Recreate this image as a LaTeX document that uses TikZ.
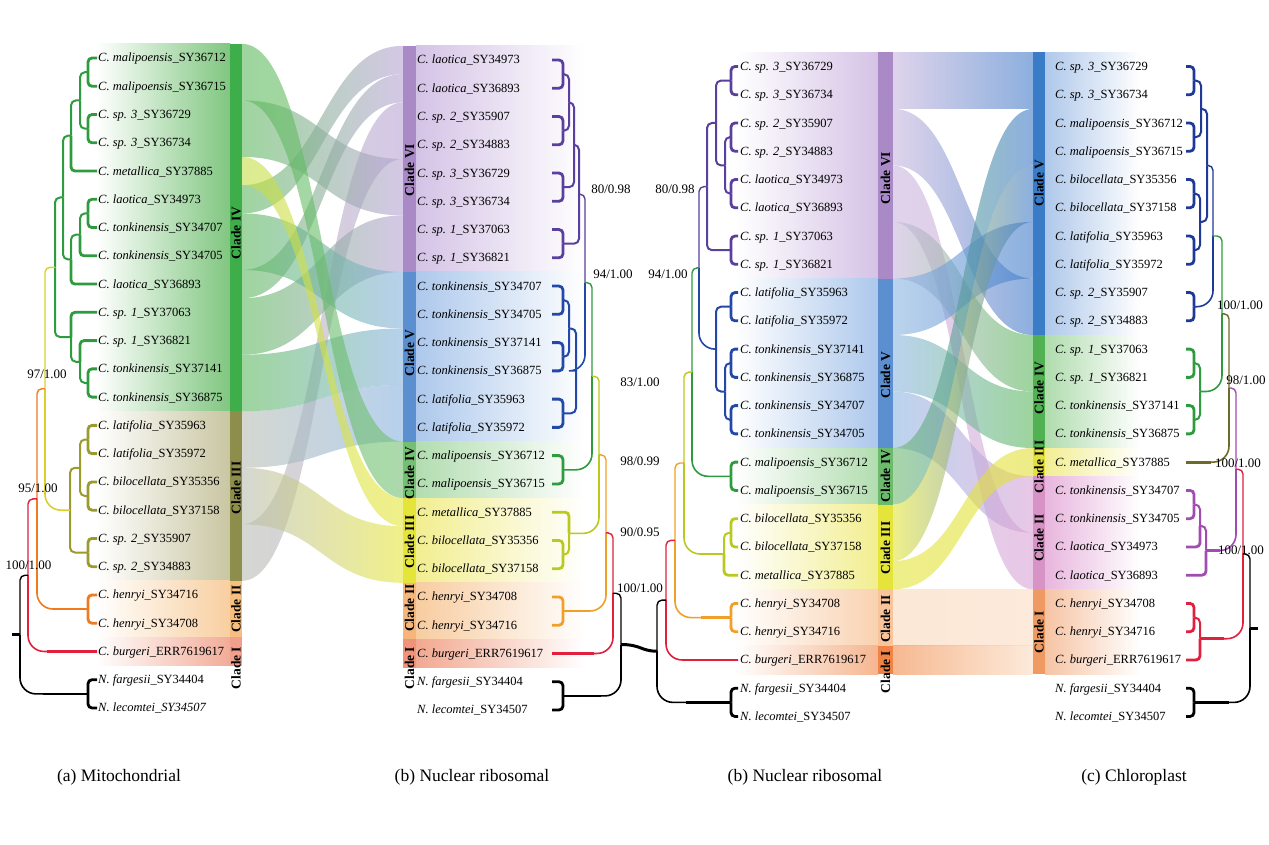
\documentclass[tikz,border=0pt]{standalone}
\usepackage{fontspec}
\setmainfont{Liberation Serif}
\usetikzlibrary{calc}
% tree colours
\definecolor{tG}{HTML}{2E9B3F}
\definecolor{tOl}{HTML}{9A9A2E}
\definecolor{tY}{HTML}{D8D12C}
\definecolor{tO}{HTML}{F07A1E}
\definecolor{tR}{HTML}{E0203C}
\definecolor{tPu}{HTML}{5B3F9E}
\definecolor{tB}{HTML}{2248A8}
\definecolor{tYG}{HTML}{B9C91F}
\definecolor{tOb}{HTML}{F0A028}
\definecolor{tOlc}{HTML}{6E6A2A}
\definecolor{tPc}{HTML}{A04CB0}
\definecolor{tN}{HTML}{1E3A96}
% backgrounds
\definecolor{bgAIV}{HTML}{80C680}\definecolor{bgAIII}{HTML}{C9C6A2}\definecolor{bgAII}{HTML}{F8CFA0}\definecolor{bgAI}{HTML}{F2AC98}
\definecolor{bAIV}{HTML}{3DAE4A}\definecolor{bAIII}{HTML}{8E8E4C}\definecolor{bAII}{HTML}{F6BF80}\definecolor{bAI}{HTML}{F0A08C}
\definecolor{bgBVI}{HTML}{D5C3E6}\definecolor{bgBV}{HTML}{ADC8EC}\definecolor{bgBIV}{HTML}{B2DDB0}\definecolor{bgBIII}{HTML}{F2EE90}\definecolor{bgBII}{HTML}{F8CCA0}\definecolor{bgBI}{HTML}{F2A890}
\definecolor{bBVI}{HTML}{A98AC6}\definecolor{bBV}{HTML}{5B8FD0}\definecolor{bBIV}{HTML}{74BF74}\definecolor{bBIII}{HTML}{E4E43A}\definecolor{bBII}{HTML}{F5B67C}\definecolor{bBI}{HTML}{EF9478}
\definecolor{bgRII}{HTML}{F9D2B0}\definecolor{bgRI}{HTML}{F5B690}
\definecolor{bRIV}{HTML}{6CBB6C}\definecolor{bRII}{HTML}{F7C49C}\definecolor{bRI}{HTML}{EF8446}
\definecolor{bgCV}{HTML}{AFC8EA}\definecolor{bgCIV}{HTML}{B0DCAE}\definecolor{bgCIII}{HTML}{F2EE94}\definecolor{bgCII}{HTML}{E8B6DE}\definecolor{bgCI}{HTML}{F6C4A4}
\definecolor{bCV}{HTML}{3A7CC8}\definecolor{bCIV}{HTML}{52B152}\definecolor{bCIII}{HTML}{E6E03C}\definecolor{bCII}{HTML}{D792C6}\definecolor{bCI}{HTML}{EE9A62}
% ribbons
\definecolor{rAIV}{HTML}{5DB95D}\definecolor{rAIII}{HTML}{B9BDB2}\definecolor{rAm}{HTML}{C4DC48}
\definecolor{rBVI}{HTML}{B9A3D6}\definecolor{rBV}{HTML}{86B2E0}\definecolor{rBIV}{HTML}{74C074}\definecolor{rBIII}{HTML}{E6E63C}
\definecolor{rRVI}{HTML}{C9B6DE}\definecolor{rRV}{HTML}{8DB6E2}\definecolor{rRIV}{HTML}{6EBA6E}\definecolor{rRIII}{HTML}{E4E43A}\definecolor{rRII}{HTML}{FAD8BA}\definecolor{rRI}{HTML}{F08A48}
\definecolor{rCV}{HTML}{3F7AC8}\definecolor{rCIV}{HTML}{5CB85C}\definecolor{rCIII}{HTML}{E2E03A}\definecolor{rCII}{HTML}{D9A2D6}\definecolor{rCI}{HTML}{FBDCC2}

\newcommand\ribL[6]{%
 \pgfmathsetmacro\RibLt{58+28.26*#3-14.13}\pgfmathsetmacro\RibLb{58+28.26*#4+14.13}%
 \pgfmathsetmacro\RibRt{60+28.26*#5-14.13}\pgfmathsetmacro\RibRb{60+28.26*#6+14.13}%
 \shade[rib,left color=#1,right color=#2] (242,\RibLt) .. controls (322,\RibLt) and (322,\RibRt) .. (403,\RibRt) -- (403,\RibRb) .. controls (322,\RibRb) and (322,\RibLb) .. (242,\RibLb) -- cycle;}
\newcommand\ribR[6]{%
 \pgfmathsetmacro\RibLt{66.5+28.26*#3-14.13}\pgfmathsetmacro\RibLb{66.5+28.26*#4+14.13}%
 \pgfmathsetmacro\RibRt{66.5+28.26*#5-14.13}\pgfmathsetmacro\RibRb{66.5+28.26*#6+14.13}%
 \shade[rib,left color=#1,right color=#2] (893,\RibLt) .. controls (963,\RibLt) and (963,\RibRt) .. (1033,\RibRt) -- (1033,\RibRb) .. controls (963,\RibRb) and (963,\RibLb) .. (893,\RibLb) -- cycle;}
\newcommand\ed[3]{\draw[#1] (#2) |- (#3);}
\newcommand\pr[4]{\draw[#1] (#2) |- (#3); \draw[#1] (#2) |- (#4);}
\newcommand\hz[3]{\draw[#1,line width=2.8pt] (#2) -- ++(#3,0);}

\begin{document}
\begin{tikzpicture}[x=1pt,y=-1pt,
 lab/.style={anchor=west,inner sep=0pt,font=\fontsize{12.5}{14}\selectfont,text height=9pt,text depth=1pt},
 cl/.style={font=\fontsize{13.5}{15}\selectfont\bfseries,rotate=90,inner sep=0pt},
 bs/.style={font=\fontsize{13}{15}\selectfont,inner sep=0pt},
 capt/.style={font=\fontsize{17.5}{20}\selectfont,inner sep=0pt},
 rib/.style={fill opacity=0.6},
 tp/.style={line width=2.8pt,rounded corners=4pt},
 inr/.style={line width=2pt,rounded corners=5pt},
 bku/.style={line width=1.4pt,rounded corners=5pt},
 bkl/.style={line width=1.6pt,rounded corners=16pt},
]
\useasboundingbox (0,0) rectangle (1269,845);

% ---------- backgrounds (a)
\shade[left color=white,right color=bgAIV] (96,43.9) rectangle (230,411.3);
\shade[left color=white,right color=bgAIII] (96,411.3) rectangle (230,580.8);
\shade[left color=white,right color=bgAII] (96,580.8) rectangle (230,637.3);
\shade[left color=white,right color=bgAI] (96,637.3) rectangle (230,665.6);
% ---------- backgrounds (b) left
\shade[left color=bgBVI,right color=white] (416,45.9) rectangle (585,271.9);
\shade[left color=bgBV,right color=white] (416,271.9) rectangle (585,441.5);
\shade[left color=bgBIV,right color=white] (416,441.5) rectangle (585,498);
\shade[left color=bgBIII,right color=white] (416,498) rectangle (585,582.8);
\shade[left color=bgBII,right color=white] (416,582.8) rectangle (585,639.3);
\shade[left color=bgBI,right color=white] (416,639.3) rectangle (585,667.6);
% ---------- backgrounds (b) right
\shade[left color=white,right color=bgBVI] (735,52.4) rectangle (878,278.5);
\shade[left color=white,right color=bgBV] (735,278.5) rectangle (878,448);
\shade[left color=white,right color=bgBIV] (735,448) rectangle (878,504.5);
\shade[left color=white,right color=bgBIII] (735,504.5) rectangle (878,589.3);
\shade[left color=white,right color=bgRII] (735,589.3) rectangle (878,645.8);
\shade[left color=white,right color=bgRI] (735,645.8) rectangle (878,674.1);
% ---------- backgrounds (c)
\shade[left color=bgCV,right color=white] (1045,52.4) rectangle (1140,335);
\shade[left color=bgCIV,right color=white] (1045,335) rectangle (1140,448);
\shade[left color=bgCIII,right color=white] (1045,448) rectangle (1140,476.3);
\shade[left color=bgCII,right color=white] (1045,476.3) rectangle (1140,589.3);
\shade[left color=bgCI,right color=white] (1045,589.3) rectangle (1140,674.1);

% ---------- ribbons (a) -> (b)
\ribL{rAIII}{rBVI}{17}{18}{2}{3}
\ribL{rAIII}{rBV}{13}{14}{12}{13}
\ribL{rAIV}{rBVI}{2}{3}{4}{5}
\ribL{rAIV}{rBVI}{5}{5}{0}{0}
\ribL{rAIV}{rBVI}{8}{8}{1}{1}
\ribL{rAIV}{rBVI}{9}{10}{6}{7}
\ribL{rAIV}{rBV}{6}{7}{8}{9}
\ribL{rAIV}{rBV}{11}{12}{10}{11}
\ribL{rAIV}{rBIV}{0}{1}{14}{15}
\ribL{rAIII}{rBIII}{15}{16}{17}{18}
\ribL{rAm}{rBIII}{4}{4}{16}{16}
% ---------- ribbons (b) -> (c)
\ribR{rRVI}{rCV}{0}{1}{0}{1}
\ribR{rRVI}{rCII}{4}{5}{17}{18}
\ribR{rRV}{rCII}{12}{13}{15}{16}
\ribR{rRVI}{rCV}{2}{3}{8}{9}
\ribR{rRVI}{rCIV}{6}{7}{10}{11}
\ribR{rRV}{rCIV}{10}{11}{12}{13}
\ribR{rRV}{rCV}{8}{9}{6}{7}
\ribR{rRIV}{rCV}{14}{15}{2}{3}
\ribR{rRIII}{rCV}{16}{17}{4}{5}
\ribR{rRIII}{rCIII}{18}{18}{14}{14}
\ribR{rRII}{rCI}{19}{20}{19}{20}
\ribR{rRI}{rCI}{21}{21}{21}{21}

% ---------- clade bars
\fill[bAIV] (230,43.9) rectangle (242,411.3);
\fill[bAIII] (230,411.3) rectangle (242,580.8);
\fill[bAII] (230,580.8) rectangle (242,637.3);
\fill[bAI] (230,637.3) rectangle (242,665.6);
\fill[bBVI] (403,45.9) rectangle (416,271.9);
\fill[bBV] (403,271.9) rectangle (416,441.5);
\fill[bBIV] (403,441.5) rectangle (416,498);
\fill[bBIII] (403,498) rectangle (416,582.8);
\fill[bBII] (403,582.8) rectangle (416,639.3);
\fill[bBI] (403,639.3) rectangle (416,667.6);
\fill[bBVI] (878,52.4) rectangle (893,278.5);
\fill[bBV] (878,278.5) rectangle (893,448);
\fill[bRIV] (878,448) rectangle (893,504.5);
\fill[bBIII] (878,504.5) rectangle (893,589.3);
\fill[bRII] (878,589.3) rectangle (893,645.8);
\fill[bRI] (878,645.8) rectangle (893,674.1);
\fill[bCV] (1033,52.4) rectangle (1045,335);
\fill[bCIV] (1033,335) rectangle (1045,448);
\fill[bCIII] (1033,448) rectangle (1045,476.3);
\fill[bCII] (1033,476.3) rectangle (1045,589.3);
\fill[bCI] (1033,589.3) rectangle (1045,674.1);

% ---------- clade labels
\node[cl] (kA4) at (236,233) {Clade IV};
\node[cl] (kA3) at (236,488) {Clade III};
\node[cl] (kA2) at (236,609) {Clade II};
\node[cl] (kA1) at (236,668) {Clade I};
\node[cl] (kB6) at (409.5,170) {Clade VI};
\node[cl] (kB5) at (409.5,353) {Clade V};
\node[cl] (kB4) at (409.5,473) {Clade IV};
\node[cl] (kB3) at (409.5,542) {Clade III};
\node[cl] (kB2) at (409.5,608) {Clade II};
\node[cl] (kB1) at (409.5,668) {Clade I};
\node[cl] (kR6) at (885.5,178) {Clade VI};
\node[cl] (kR5) at (885.5,375) {Clade V};
\node[cl] (kR4) at (885.5,476) {Clade IV};
\node[cl] (kR3) at (885.5,548) {Clade III};
\node[cl] (kR2) at (885.5,619) {Clade II};
\node[cl] (kR1) at (885.5,672) {Clade I};
\node[cl] (kC5) at (1039,183) {Clade V};
\node[cl] (kC4) at (1039,388) {Clade IV};
\node[cl] (kC3) at (1039,467) {Clade III};
\node[cl] (kC2) at (1039,538) {Clade II};
\node[cl] (kC1) at (1039,632) {Clade I};

% ---------- tip labels
\foreach \g/\s [count=\i from 0] in {{C. malipoensis}/SY36712,{C. malipoensis}/SY36715,{C. sp. 3}/SY36729,{C. sp. 3}/SY36734,{C. metallica}/SY37885,{C. laotica}/SY34973,{C. tonkinensis}/SY34707,{C. tonkinensis}/SY34705,{C. laotica}/SY36893,{C. sp. 1}/SY37063,{C. sp. 1}/SY36821,{C. tonkinensis}/SY37141,{C. tonkinensis}/SY36875,{C. latifolia}/SY35963,{C. latifolia}/SY35972,{C. bilocellata}/SY35356,{C. bilocellata}/SY37158,{C. sp. 2}/SY35907,{C. sp. 2}/SY34883,{C. henryi}/SY34716,{C. henryi}/SY34708,{C. burgeri}/ERR7619617,{N. fargesii}/SY34404,{N. lecomtei}/{\textit{SY34507}}}
 {\node[lab] (la\i) at (98,{58+28.26*\i}) {\textit{\g}\_\s};}
\foreach \g/\s [count=\i from 0] in {{C. laotica}/SY34973,{C. laotica}/SY36893,{C. sp. 2}/SY35907,{C. sp. 2}/SY34883,{C. sp. 3}/SY36729,{C. sp. 3}/SY36734,{C. sp. 1}/SY37063,{C. sp. 1}/SY36821,{C. tonkinensis}/SY34707,{C. tonkinensis}/SY34705,{C. tonkinensis}/SY37141,{C. tonkinensis}/SY36875,{C. latifolia}/SY35963,{C. latifolia}/SY35972,{C. malipoensis}/SY36712,{C. malipoensis}/SY36715,{C. metallica}/SY37885,{C. bilocellata}/SY35356,{C. bilocellata}/SY37158,{C. henryi}/SY34708,{C. henryi}/SY34716,{C. burgeri}/ERR7619617,{N. fargesii}/SY34404,{N. lecomtei}/SY34507}
 {\node[lab] (lb\i) at (417,{60+28.26*\i}) {\textit{\g}\_\s};}
\foreach \g/\s [count=\i from 0] in {{C. sp. 3}/SY36729,{C. sp. 3}/SY36734,{C. sp. 2}/SY35907,{C. sp. 2}/SY34883,{C. laotica}/SY34973,{C. laotica}/SY36893,{C. sp. 1}/SY37063,{C. sp. 1}/SY36821,{C. latifolia}/SY35963,{C. latifolia}/SY35972,{C. tonkinensis}/SY37141,{C. tonkinensis}/SY36875,{C. tonkinensis}/SY34707,{C. tonkinensis}/SY34705,{C. malipoensis}/SY36712,{C. malipoensis}/SY36715,{C. bilocellata}/SY35356,{C. bilocellata}/SY37158,{C. metallica}/SY37885,{C. henryi}/SY34708,{C. henryi}/SY34716,{C. burgeri}/ERR7619617,{N. fargesii}/SY34404,{N. lecomtei}/SY34507}
 {\node[lab] (lr\i) at (740,{66.5+28.26*\i}) {\textit{\g}\_\s};}
\foreach \g/\s [count=\i from 0] in {{C. sp. 3}/SY36729,{C. sp. 3}/SY36734,{C. malipoensis}/SY36712,{C. malipoensis}/SY36715,{C. bilocellata}/SY35356,{C. bilocellata}/SY37158,{C. latifolia}/SY35963,{C. latifolia}/SY35972,{C. sp. 2}/SY35907,{C. sp. 2}/SY34883,{C. sp. 1}/SY37063,{C. sp. 1}/SY36821,{C. tonkinensis}/SY37141,{C. tonkinensis}/SY36875,{C. metallica}/SY37885,{C. tonkinensis}/SY34707,{C. tonkinensis}/SY34705,{C. laotica}/SY34973,{C. laotica}/SY36893,{C. henryi}/SY34708,{C. henryi}/SY34716,{C. burgeri}/ERR7619617,{N. fargesii}/SY34404,{N. lecomtei}/SY34507}
 {\node[lab] (lc\i) at (1055,{66.5+28.26*\i}) {\textit{\g}\_\s};}

% ---------- tip coordinates
\foreach \i in {0,...,23}{
 \coordinate (ta\i) at (97,{58+28.26*\i});
 \coordinate (tb\i) at (552,{60+28.26*\i});
 \coordinate (tr\i) at (738,{66.5+28.26*\i});
 \coordinate (tc\i) at (1186,{66.5+28.26*\i});
}

% ---------- tree (a)
\coordinate (am) at (88,72.2); \coordinate (as3) at (88,128.7); \coordinate (ams) at (80,100.4);
\coordinate (amm) at (71,135.7); \coordinate (al1) at (88,213.4); \coordinate (al2) at (80,234.6);
\coordinate (al3) at (71,259.4); \coordinate (ag1) at (63,197.5); \coordinate (at1) at (88,383);
\coordinate (at2) at (80,361.8); \coordinate (at3) at (71,337); \coordinate (aIV) at (55,267.3);
\coordinate (ala) at (88,439.5); \coordinate (abi) at (88,496); \coordinate (alb) at (80,467.8);
\coordinate (as2) at (88,552.5); \coordinate (aIII) at (70,510.2); \coordinate (aY) at (45,388.7);
\coordinate (ah) at (88,609); \coordinate (aO) at (37,498.9); \coordinate (aR) at (28,575.2);
\coordinate (aout) at (88,693.9); \coordinate (aroot) at (20,634.5);
\pr{tp,tG}{am}{ta0}{ta1}
\pr{tp,tG}{as3}{ta2}{ta3}
\pr{inr,tG}{ams}{am}{as3}
\ed{inr,tG}{amm}{ams} \ed{tp,tG}{amm}{ta4}
\pr{tp,tG}{al1}{ta5}{ta6}
\ed{inr,tG}{al2}{al1} \ed{tp,tG}{al2}{ta7}
\ed{inr,tG}{al3}{al2} \ed{tp,tG}{al3}{ta8}
\pr{inr,tG}{ag1}{amm}{al3}
\pr{tp,tG}{at1}{ta11}{ta12}
\ed{tp,tG}{at2}{ta10} \ed{inr,tG}{at2}{at1}
\ed{tp,tG}{at3}{ta9} \ed{inr,tG}{at3}{at2}
\pr{inr,tG}{aIV}{ag1}{at3}
\pr{tp,tOl}{ala}{ta13}{ta14}
\pr{tp,tOl}{abi}{ta15}{ta16}
\pr{inr,tOl}{alb}{ala}{abi}
\pr{tp,tOl}{as2}{ta17}{ta18}
\pr{inr,tOl}{aIII}{alb}{as2}
\ed{bku,tY}{aY}{aIV} \ed{bkl,tY}{aY}{aIII}
\pr{tp,tO}{ah}{ta19}{ta20}
\ed{bku,tO}{aO}{aY} \ed{bkl,tO}{aO}{ah}
\ed{bku,tR}{aR}{aO} \ed{bkl,tR}{aR}{ta21}
\pr{tp,black}{aout}{ta22}{ta23}
\ed{bku,black}{aroot}{aR} \ed{bkl,black}{aroot}{aout}
\hz{black}{aout}{-45} \hz{tR}{ta21}{-50} \hz{tO}{ah}{-30}
\draw[black,line width=3pt] (aroot) -- ++(-8,0);

% ---------- tree (b) left
\coordinate (bL) at (563,74.2); \coordinate (bS2) at (563,130.7); \coordinate (bS3) at (563,187.2);
\coordinate (bS1) at (563,243.7); \coordinate (bLS) at (569,102.4); \coordinate (bLSS) at (574,144.8);
\coordinate (bVI) at (579,194.2); \coordinate (bT1) at (563,300.2); \coordinate (bT2) at (563,356.7);
\coordinate (bTT) at (569,328.5); \coordinate (bLa) at (563,413.3); \coordinate (bV) at (576,370.9);
\coordinate (bVV) at (585,282.6); \coordinate (bIV) at (563,469.8); \coordinate (bG) at (592,376.2);
\coordinate (bbi) at (563,554.6); \coordinate (bIII) at (569,533.4); \coordinate (bY) at (599,454.8);
\coordinate (bh) at (563,611); \coordinate (bO) at (606,532.9); \coordinate (bR) at (613,593.2);
\coordinate (bout) at (563,695.9); \coordinate (bB) at (621,644.5);
\pr{tp,tPu}{bL}{tb0}{tb1} \pr{tp,tPu}{bS2}{tb2}{tb3} \pr{tp,tPu}{bS3}{tb4}{tb5} \pr{tp,tPu}{bS1}{tb6}{tb7}
\pr{inr,tPu}{bLS}{bL}{bS2} \pr{inr,tPu}{bLSS}{bLS}{bS3} \pr{inr,tPu}{bVI}{bLSS}{bS1}
\pr{tp,tB}{bT1}{tb8}{tb9} \pr{tp,tB}{bT2}{tb10}{tb11} \pr{inr,tB}{bTT}{bT1}{bT2}
\pr{tp,tB}{bLa}{tb12}{tb13} \pr{inr,tB}{bV}{bTT}{bLa}
\ed{bku,tPu}{bVV}{bVI} \ed{bkl,tB}{bVV}{bV}
\pr{tp,tG}{bIV}{tb14}{tb15}
\ed{bku,tG}{bG}{bVV} \ed{bkl,tG}{bG}{bIV}
\pr{tp,tYG}{bbi}{tb17}{tb18} \ed{tp,tYG}{bIII}{tb16} \ed{inr,tYG}{bIII}{bbi}
\ed{bku,tYG}{bY}{bG} \ed{bkl,tYG}{bY}{bIII}
\pr{tp,tOb}{bh}{tb19}{tb20}
\ed{bku,tOb}{bO}{bY} \ed{bkl,tOb}{bO}{bh}
\ed{bku,tR}{bR}{bO} \ed{bkl,tR}{bR}{tb21}
\pr{tp,black}{bout}{tb22}{tb23}
\ed{bku,black}{bB}{bR} \ed{bkl,black}{bB}{bout}
\hz{black}{bout}{38} \hz{tR}{tb21}{42} \hz{tOb}{bh}{25}

% ---------- tree (b) right
\coordinate (cS3) at (731,80.6); \coordinate (cS2) at (731,137.1); \coordinate (cL) at (731,193.6);
\coordinate (cS1) at (731,250.2); \coordinate (cSL) at (725,165.4); \coordinate (cSSL) at (716,123);
\coordinate (cVI) at (707,186.6); \coordinate (cLa) at (731,306.7); \coordinate (cT1) at (731,363.2);
\coordinate (cT2) at (731,419.8); \coordinate (cTT) at (725,391.5); \coordinate (cV) at (716,349.1);
\coordinate (cVV) at (699,267.9); \coordinate (cIV) at (731,476.3); \coordinate (cG) at (692,372.1);
\coordinate (cbi) at (731,532.8); \coordinate (cIII) at (724,554); \coordinate (cY) at (684,463);
\coordinate (ch) at (731,617.6); \coordinate (cO) at (675,540.3); \coordinate (cR) at (666,600.1);
\coordinate (cout) at (731,702.4); \coordinate (cB) at (657,651.2);
\pr{tp,tPu}{cS3}{tr0}{tr1} \pr{tp,tPu}{cS2}{tr2}{tr3} \pr{tp,tPu}{cL}{tr4}{tr5} \pr{tp,tPu}{cS1}{tr6}{tr7}
\pr{inr,tPu}{cSL}{cS2}{cL} \pr{inr,tPu}{cSSL}{cS3}{cSL} \pr{inr,tPu}{cVI}{cSSL}{cS1}
\pr{tp,tB}{cLa}{tr8}{tr9} \pr{tp,tB}{cT1}{tr10}{tr11} \pr{tp,tB}{cT2}{tr12}{tr13}
\pr{inr,tB}{cTT}{cT1}{cT2} \pr{inr,tB}{cV}{cLa}{cTT}
\ed{bku,tPu}{cVV}{cVI} \ed{bkl,tB}{cVV}{cV}
\pr{tp,tG}{cIV}{tr14}{tr15}
\ed{bku,tG}{cG}{cVV} \ed{bkl,tG}{cG}{cIV}
\pr{tp,tYG}{cbi}{tr16}{tr17} \ed{inr,tYG}{cIII}{cbi} \ed{tp,tYG}{cIII}{tr18}
\ed{bku,tYG}{cY}{cG} \ed{bkl,tYG}{cY}{cIII}
\pr{tp,tOb}{ch}{tr19}{tr20}
\ed{bku,tOb}{cO}{cY} \ed{bkl,tOb}{cO}{ch}
\ed{bku,tR}{cR}{cO} \ed{bkl,tR}{cR}{tr21}
\pr{tp,black}{cout}{tr22}{tr23}
\ed{bku,black}{cB}{cR} \ed{bkl,black}{cB}{cout}
\hz{black}{cout}{-45} \hz{tR}{tr21}{-45} \hz{tOb}{ch}{-30}
\draw[black,line width=3pt] (bB) .. controls +(20,0) and +(-16,0) .. (cB);

% ---------- tree (c)
\coordinate (dS3) at (1194,80.6); \coordinate (dM) at (1194,137.1); \coordinate (dSM) at (1201,108.9);
\coordinate (dB) at (1194,193.6); \coordinate (dLa) at (1194,250.2); \coordinate (dBL) at (1200,221.9);
\coordinate (dSMBL) at (1207,165.4); \coordinate (dS2) at (1194,306.7); \coordinate (dV) at (1213,236);
\coordinate (dS1) at (1194,363.2); \coordinate (dT) at (1194,419.8); \coordinate (dIV) at (1200,391.5);
\coordinate (dG) at (1222,313.8); \coordinate (dOl) at (1229,388); \coordinate (dT7) at (1194,504.5);
\coordinate (dT7L) at (1200,525.8); \coordinate (dII) at (1206,550.5); \coordinate (dP) at (1236,469.2);
\coordinate (dh) at (1194,617.6); \coordinate (dI) at (1200,638.7); \coordinate (dRc) at (1243,554);
\coordinate (dout) at (1194,702.4); \coordinate (dBc) at (1250,628.2);
\pr{tp,tN}{dS3}{tc0}{tc1} \pr{tp,tN}{dM}{tc2}{tc3} \pr{inr,tN}{dSM}{dS3}{dM}
\pr{tp,tN}{dB}{tc4}{tc5} \pr{tp,tN}{dLa}{tc6}{tc7} \pr{inr,tN}{dBL}{dB}{dLa}
\pr{inr,tN}{dSMBL}{dSM}{dBL} \pr{tp,tN}{dS2}{tc8}{tc9}
\ed{bku,tN}{dV}{dSMBL} \ed{bkl,tN}{dV}{dS2}
\pr{tp,tG}{dS1}{tc10}{tc11} \pr{tp,tG}{dT}{tc12}{tc13} \pr{inr,tG}{dIV}{dS1}{dT}
\ed{bku,tG}{dG}{dV} \ed{bkl,tG}{dG}{dIV}
\ed{bku,tOlc}{dOl}{dG} \ed{bkl,tOlc}{dOl}{tc14}
\pr{tp,tPc}{dT7}{tc15}{tc16} \ed{inr,tPc}{dT7L}{dT7} \ed{tp,tPc}{dT7L}{tc17}
\ed{inr,tPc}{dII}{dT7L} \ed{tp,tPc}{dII}{tc18}
\ed{bku,tPc}{dP}{dOl} \ed{bkl,tPc}{dP}{dII}
\pr{tp,tR}{dh}{tc19}{tc20} \ed{inr,tR}{dI}{dh} \ed{tp,tR}{dI}{tc21}
\ed{bku,tR}{dRc}{dP} \ed{bkl,tR}{dRc}{dI}
\pr{tp,black}{dout}{tc22}{tc23}
\ed{bku,black}{dBc}{dRc} \ed{bkl,black}{dBc}{dout}
\hz{black}{dout}{35} \hz{tR}{dI}{24} \hz{tPc}{dII}{14} \hz{tOlc}{tc14}{25}
\draw[black,line width=3pt] (dBc) -- ++(8,0);

% ---------- support values
\node[bs] (sa1) at (47,374) {97/1.00};
\node[bs] (sa2) at (38,488) {95/1.00};
\node[bs] (sa3) at (28.5,565) {100/1.00};
\node[bs] (sb1) at (611,189) {80/0.98};
\node[bs] (sb2) at (675,189) {80/0.98};
\node[bs] (sb3) at (613,274) {94/1.00};
\node[bs] (sb4) at (668,274) {94/1.00};
\node[bs] (sb5) at (640,382) {83/1.00};
\node[bs] (sb6) at (640,461) {98/0.99};
\node[bs] (sb7) at (640,532) {90/0.95};
\node[bs] (sb8) at (640,588) {100/1.00};
\node[bs] (sc1) at (1240,305) {100/1.00};
\node[bs] (sc2) at (1246,380) {98/1.00};
\node[bs] (sc3) at (1238,463) {100/1.00};
\node[bs] (sc4) at (1241,550) {100/1.00};

% ---------- captions
\node[capt] (cap1) at (119,777) {(a) Mitochondrial};
\node[capt] (cap2) at (472,777) {(b) Nuclear ribosomal};
\node[capt] (cap3) at (805,777) {(b) Nuclear ribosomal};
\node[capt] (cap4) at (1134,777) {(c) Chloroplast};
\end{tikzpicture}
\end{document}
